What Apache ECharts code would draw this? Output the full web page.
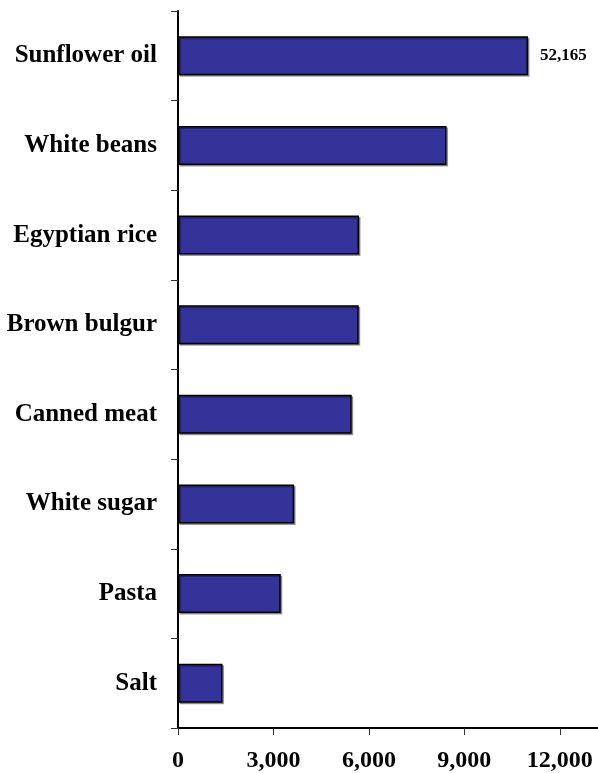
<!DOCTYPE html>
<html>
<head>
<meta charset="utf-8">
<script src="https://cdn.jsdelivr.net/npm/echarts@6/dist/echarts.min.js"></script>
<style>html,body{margin:0;padding:0;background:#fff;}#c{width:598px;height:773px;}</style>
</head>
<body>
<div id="c"></div>
<script>
const categories = ['Sunflower oil', 'White beans', 'Egyptian rice', 'Brown bulgur', 'Canned meat', 'White sugar', 'Pasta', 'Salt'];
const values = [52165, 8440, 5690, 5680, 5460, 3650, 3230, 1400];
const truncatedAt = 11000; // the original draws the Sunflower oil bar broken at this length
const labelledCategories = ['Sunflower oil'];
const xTicks = [0, 3000, 6000, 9000, 12000];
const xMax = 13200;

const font = "'Liberation Serif', 'Times New Roman', serif";
const chart = echarts.init(document.getElementById('c'), null, {renderer: 'canvas'});

const barData = values.map((v, i) => ({
  value: Math.min(v, truncatedAt),
  raw: v,
  label: {show: labelledCategories.includes(categories[i])}
}));

chart.setOption({
  animation: false,
  backgroundColor: '#fff',
  grid: {left: 178, right: 0, top: 11, bottom: 44, containLabel: false},
  xAxis: {
    type: 'value',
    min: 0,
    max: xMax,
    interval: 3000,
    splitLine: {show: false},
    axisLine: {show: true, lineStyle: {color: '#000', width: 2}},
    axisTick: {show: true, length: 7, customValues: xTicks, lineStyle: {color: '#333', width: 1}},
    axisLabel: {
      customValues: xTicks,
      margin: 21,
      color: '#000',
      fontFamily: font,
      fontWeight: 'bold',
      fontSize: 24,
      formatter: v => v.toLocaleString('en-US')
    }
  },
  yAxis: {
    type: 'category',
    data: categories,
    inverse: true,
    axisLine: {show: true, lineStyle: {color: '#000', width: 2}},
    axisTick: {show: true, length: 7, lineStyle: {color: '#333', width: 1}},
    axisLabel: {
      margin: 21,
      color: '#000',
      fontFamily: font,
      fontWeight: 'bold',
      fontSize: 25
    }
  },
  series: [{
    type: 'bar',
    data: barData,
    barWidth: 39,
    itemStyle: {
      color: '#333399',
      borderColor: '#000',
      borderWidth: 1.5,
      shadowColor: 'rgba(0,0,0,0.35)',
      shadowOffsetX: 1.5,
      shadowOffsetY: 1.5,
      shadowBlur: 0
    },
    label: {
      position: 'right',
      distance: 12,
      color: '#000',
      fontFamily: font,
      fontWeight: 'bold',
      fontSize: 17,
      formatter: p => p.data.raw.toLocaleString('en-US')
    }
  }]
});
</script>
</body>
</html>
